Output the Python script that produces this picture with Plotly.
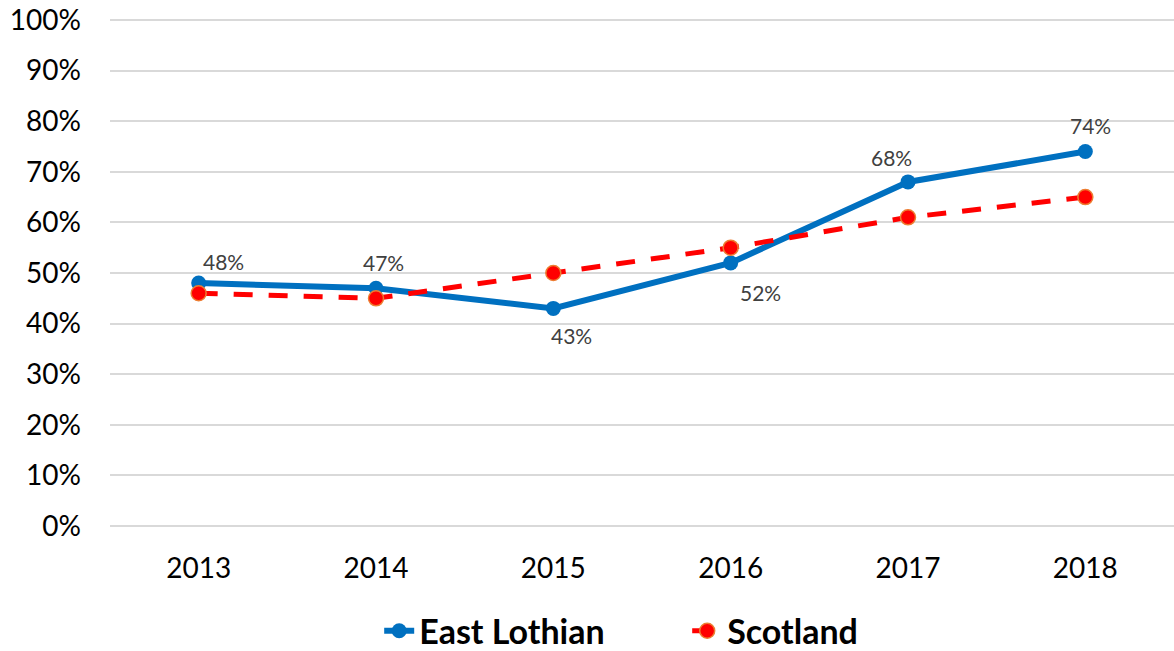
import plotly.graph_objects as go

years = ["2013", "2014", "2015", "2016", "2017", "2018"]
east_lothian = [48, 47, 43, 52, 68, 74]
scotland = [46, 45, 50, 55, 61, 65]
label_xshift = [25, 7, 18, 30, -17, 5]
label_yshift = [22, 26, -27, -30, 24, 26]

y_ticks = list(range(0, 101, 10))
y_tick_labels = [f"{v}%" for v in y_ticks]

FONT = "Lato, 'Open Sans', sans-serif"

fig = go.Figure()
fig.add_trace(go.Scatter(
    x=years, y=east_lothian, name="East Lothian", mode="lines+markers",
    line=dict(color="#0070C0", width=6),
    marker=dict(size=15, color="#0070C0"),
))
fig.add_trace(go.Scatter(
    x=years, y=scotland, name="Scotland", mode="lines+markers",
    line=dict(color="#FF0000", width=5, dash="19px,16px"),
    marker=dict(size=15, color="#FF0000", line=dict(color="#ED7D31", width=1.5)),
))

for i, (y, xs, ys) in enumerate(zip(east_lothian, label_xshift, label_yshift)):
    fig.add_annotation(
        x=i, y=y, xref="x", yref="y", text=f"{y}%", showarrow=False,
        xshift=xs, yshift=ys,
        font=dict(family=FONT, size=21, color="#404040"),
    )

fig.update_layout(
    width=1174, height=651,
    margin=dict(l=110, r=0, t=19, b=124, autoexpand=False),
    paper_bgcolor="white", plot_bgcolor="white",
    font=dict(family=FONT, color="black"),
    legend=dict(orientation="h", x=0.253, xanchor="left", y=-0.205, yanchor="middle",
                entrywidth=263, entrywidthmode="pixels",
                font=dict(family=FONT, size=34, color="black", weight="bold")),
    showlegend=True,
)
fig.update_xaxes(
    type="category", range=[-0.5, 5.5], showgrid=False, showline=False,
    ticks="", tickfont=dict(family=FONT, size=28, color="black"), ticklabelstandoff=22,
)
fig.update_yaxes(
    range=[-0.2, 100.2], tickvals=y_ticks, ticktext=y_tick_labels,
    showgrid=True, gridcolor="#D9D9D9", gridwidth=2, zeroline=False,
    ticklabeloverflow="allow",
    tickfont=dict(family=FONT, size=28, color="black"), ticklabelstandoff=28,
)

fig.write_html("out.html", config={"displayModeBar": False},
               post_script="document.body.style.margin='0px';")
